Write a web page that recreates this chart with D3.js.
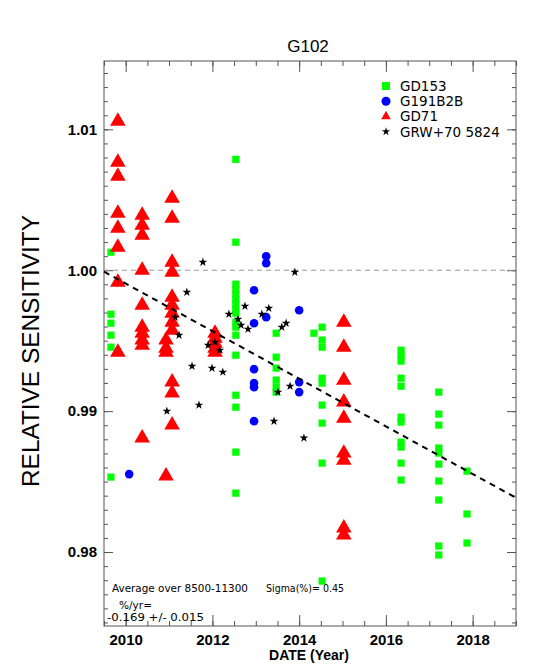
<html>
  <head>
    <script src="https://d3js.org/d3.v7.min.js"></script>
    <meta charset="UTF-8">
    <style>
      body { margin: 0; background: #fff; }
      text { fill: #000; }
    </style>
  </head>
  <body>
    <svg id="chart" width="548" height="665"></svg>
    <script>
      // values: [year, relative sensitivity]
      var gd153 = [
        [2009.66, 1.00128], [2009.66, 0.99688], [2009.66, 0.99624], [2009.66, 0.99539], [2009.66, 0.99454], [2009.66, 0.98532],
        [2012.54, 1.00787], [2012.54, 1.00199], [2012.54, 0.99901], [2012.54, 0.99865], [2012.54, 0.9983], [2012.54, 0.99794],
        [2012.54, 0.99759], [2012.54, 0.99723], [2012.54, 0.99695], [2012.54, 0.99631], [2012.54, 0.99596], [2012.54, 0.99539],
        [2012.54, 0.99397], [2012.54, 0.99113], [2012.54, 0.99028], [2012.54, 0.98709], [2012.54, 0.98418],
        [2013.47, 0.99553], [2013.47, 0.99383], [2013.47, 0.99305], [2013.47, 0.9922], [2013.47, 0.9917], [2013.47, 0.99135],
        [2014.34, 0.99553],
        [2014.53, 0.99596], [2014.53, 0.99504], [2014.53, 0.99454], [2014.53, 0.99234], [2014.53, 0.99199], [2014.53, 0.99043],
        [2014.53, 0.98915], [2014.53, 0.98631], [2014.53, 0.97794],
        [2016.35, 0.99433], [2016.35, 0.99397], [2016.35, 0.99355], [2016.35, 0.99234], [2016.35, 0.99177], [2016.35, 0.98957],
        [2016.35, 0.98922], [2016.35, 0.9878], [2016.35, 0.98745], [2016.35, 0.98631], [2016.35, 0.98511],
        [2017.22, 0.99135], [2017.22, 0.98979], [2017.22, 0.98901], [2017.22, 0.98738], [2017.22, 0.98702], [2017.22, 0.98624],
        [2017.22, 0.98504], [2017.22, 0.98369], [2017.22, 0.98043], [2017.22, 0.97979],
        [2017.87, 0.98574], [2017.87, 0.9827], [2017.87, 0.98064]
      ];

      var g191b2b = [
        [2010.08, 0.98553],
        [2012.96, 0.99858], [2012.96, 0.99624], [2012.96, 0.99298], [2012.96, 0.99199], [2012.96, 0.9917], [2012.96, 0.98929],
        [2013.24, 1.00099], [2013.24, 1.0005], [2013.24, 0.99667],
        [2014.0, 0.99716], [2014.0, 0.99206], [2014.0, 0.99135]
      ];

      var gd71 = [
        [2009.82, 1.01057], [2009.82, 1.00766], [2009.82, 1.00667], [2009.82, 1.00404], [2009.82, 1.00298], [2009.82, 1.00163],
        [2009.82, 0.99915], [2009.82, 0.99418],
        [2010.38, 1.0039], [2010.38, 1.00319], [2010.38, 1.00248], [2010.38, 1.0], [2010.38, 0.99752], [2010.38, 0.99596],
        [2010.38, 0.99553], [2010.38, 0.99504], [2010.38, 0.99468], [2010.38, 0.98809],
        [2011.07, 1.00511], [2011.07, 1.00369], [2011.07, 1.00057], [2011.07, 0.99986], [2011.07, 0.99809], [2011.07, 0.99752],
        [2011.07, 0.99695], [2011.07, 0.99631], [2011.07, 0.99574], [2011.07, 0.99206], [2011.07, 0.99128], [2011.07, 0.98901],
        [2010.93, 0.99504], [2010.93, 0.99447], [2010.93, 0.99418], [2010.93, 0.98539],
        [2012.06, 0.99553], [2012.06, 0.99518], [2012.06, 0.99482], [2012.06, 0.99447], [2012.06, 0.99418],
        [2015.03, 0.99631], [2015.03, 0.99454], [2015.03, 0.9922], [2015.03, 0.99064], [2015.03, 0.9895], [2015.03, 0.98702],
        [2015.03, 0.98652], [2015.03, 0.9817], [2015.03, 0.98121]
      ];

      var grw = [
        [2011.78, 1.00057], [2011.41, 0.99844], [2011.14, 0.99667], [2011.23, 0.99539], [2011.90, 0.99468], [2012.06, 0.99489],
        [2012.17, 0.99433], [2011.53, 0.99319], [2011.99, 0.99305], [2012.24, 0.99277], [2011.69, 0.99043], [2010.95, 0.99],
        [2013.90, 0.99986], [2012.75, 0.99745], [2013.30, 0.9973], [2012.38, 0.99688], [2012.59, 0.99652], [2013.14, 0.99688],
        [2012.66, 0.9961], [2012.82, 0.99582], [2013.60, 0.99596], [2013.70, 0.99624], [2013.51, 0.99135], [2013.79, 0.99177],
        [2013.42, 0.98929], [2014.11, 0.98809]
      ];

      var fitYears = [2009.5, 2019.0];
      var fitValues = [0.9999, 0.98385];

      var xMajor = [2010, 2012, 2014, 2016, 2018];
      var yMajor = [0.98, 0.99, 1.00, 1.01];
      var legendNames = ["GD153", "G191B2B", "GD71", "GRW+70 5824"];

      var padL = 104, padR = 516, padT = 61, padB = 626;
      var svg = d3.select("#chart");

      var x = d3.scaleLinear().domain([2009.5, 2019.0]).range([padL, padR]);
      var y = d3.scaleLinear().domain([0.97475, 1.01485]).range([padB, padT]);

      var tickColor = "#555";
      var labelFont = "Liberation Sans, Arial, sans-serif";

      function styleAxis(g) {
        g.select(".domain").remove();
        g.selectAll("line").attr("stroke", tickColor);
        g.selectAll("text").attr("font-family", labelFont).attr("font-size", 15)
          .attr("font-weight", "bold").attr("fill", "#000");
      }

      var xMinor = d3.range(2009.5, 2019.01, 0.5);
      var yMinor = d3.range(0.975, 1.0149, 0.001);

      // bottom
      svg.append("g").attr("transform", "translate(0," + padB + ")")
        .call(d3.axisBottom(x).tickValues(xMinor).tickSize(-5).tickFormat("")).call(styleAxis);
      svg.append("g").attr("transform", "translate(0," + padB + ")")
        .call(d3.axisBottom(x).tickValues(xMajor).tickSize(-11).tickPadding(8).tickFormat(d3.format("d"))).call(styleAxis);
      // top
      svg.append("g").attr("transform", "translate(0," + padT + ")")
        .call(d3.axisTop(x).tickValues(xMinor).tickSize(-5).tickFormat("")).call(styleAxis);
      svg.append("g").attr("transform", "translate(0," + padT + ")")
        .call(d3.axisTop(x).tickValues(xMajor).tickSize(-11).tickFormat("")).call(styleAxis);
      // left
      svg.append("g").attr("transform", "translate(" + padL + ",0)")
        .call(d3.axisLeft(y).tickValues(yMinor).tickSize(-4).tickFormat("")).call(styleAxis);
      svg.append("g").attr("transform", "translate(" + padL + ",0)")
        .call(d3.axisLeft(y).tickValues(yMajor).tickSize(-9).tickPadding(7).tickFormat(d3.format(".2f"))).call(styleAxis);
      // right
      svg.append("g").attr("transform", "translate(" + padR + ",0)")
        .call(d3.axisRight(y).tickValues(yMinor).tickSize(-4).tickFormat("")).call(styleAxis);
      svg.append("g").attr("transform", "translate(" + padR + ",0)")
        .call(d3.axisRight(y).tickValues(yMajor).tickSize(-9).tickFormat("")).call(styleAxis);

      svg.append("rect")
        .attr("x", padL).attr("y", padT)
        .attr("width", padR - padL).attr("height", padB - padT)
        .attr("fill", "none").attr("stroke", tickColor).attr("stroke-width", 1);

      // reference line at 1.00
      svg.append("line")
        .attr("x1", padL).attr("x2", padR)
        .attr("y1", y(1.0)).attr("y2", y(1.0))
        .attr("stroke", "#999").attr("stroke-width", 1).attr("stroke-dasharray", "5,4");

      var plot = svg.append("g");

      plot.selectAll(".sq").data(gd153).enter().append("path")
        .attr("d", d3.symbol().type(d3.symbolSquare).size(52))
        .attr("transform", d => "translate(" + x(d[0]) + "," + y(d[1]) + ")")
        .attr("fill", "#00ff00");

      plot.selectAll(".ci").data(g191b2b).enter().append("path")
        .attr("d", d3.symbol().type(d3.symbolCircle).size(58))
        .attr("transform", d => "translate(" + x(d[0]) + "," + y(d[1]) + ")")
        .attr("fill", "#0000ff");

      plot.selectAll(".tr").data(gd71).enter().append("path")
        .attr("d", d3.symbol().type(d3.symbolTriangle).size(105))
        .attr("transform", d => "translate(" + x(d[0]) + "," + y(d[1]) + ")")
        .attr("fill", "#ff0000");

      plot.selectAll(".st").data(grw).enter().append("path")
        .attr("d", d3.symbol().type(d3.symbolStar).size(24))
        .attr("transform", d => "translate(" + x(d[0]) + "," + y(d[1]) + ")")
        .attr("fill", "#000");

      var line = d3.line().x(d => x(d[0])).y(d => y(d[1]));
      plot.append("path")
        .datum(d3.zip(fitYears, fitValues))
        .attr("d", line)
        .attr("fill", "none").attr("stroke", "#000").attr("stroke-width", 2)
        .attr("stroke-dasharray", "6,5");

      // legend
      var legendSymbols = [
        d3.symbol().type(d3.symbolSquare).size(64),
        d3.symbol().type(d3.symbolCircle).size(64),
        d3.symbol().type(d3.symbolTriangle).size(40),
        d3.symbol().type(d3.symbolStar).size(22)
      ];
      var legendColors = ["#00ff00", "#0000ff", "#ff0000", "#000"];
      var legend = svg.append("g");
      legendNames.forEach(function(name, i) {
        var ly = 86 + i * 15.2;
        legend.append("path").attr("d", legendSymbols[i])
          .attr("transform", "translate(386," + ly + ")")
          .attr("fill", legendColors[i]);
        legend.append("text").attr("x", 400).attr("y", ly + 5)
          .attr("font-family", "DejaVu Sans, sans-serif").attr("font-size", 13.5)
          .text(name);
      });

      // titles
      svg.append("text").attr("x", 308).attr("y", 52)
        .attr("text-anchor", "middle").attr("font-family", labelFont).attr("font-size", 17)
        .text("G102");

      svg.append("text").attr("x", 309).attr("y", 660)
        .attr("text-anchor", "middle").attr("font-family", labelFont).attr("font-size", 14)
        .attr("font-weight", "bold").text("DATE (Year)");

      svg.append("text")
        .attr("transform", "translate(39,351) rotate(-90)")
        .attr("text-anchor", "middle").attr("font-family", labelFont).attr("font-size", 24)
        .attr("textLength", 272).attr("lengthAdjust", "spacingAndGlyphs")
        .text("RELATIVE SENSITIVITY");

      // notes
      var noteFont = "DejaVu Sans, sans-serif";
      function note(tx, ty, str, len) {
        var t = svg.append("text").attr("x", tx).attr("y", ty)
          .attr("font-family", noteFont).attr("font-size", 10.5).text(str);
        if (len) t.attr("textLength", len).attr("lengthAdjust", "spacingAndGlyphs");
      }
      note(112, 592, "Average over  8500-11300", 136);
      note(266, 592, "Sigma(%)= 0.45", 78);
      note(119, 609, "%/yr=", 33);
      note(107, 621, "-0.169  +/- 0.015", 97);
    </script>
  </body>
</html>
